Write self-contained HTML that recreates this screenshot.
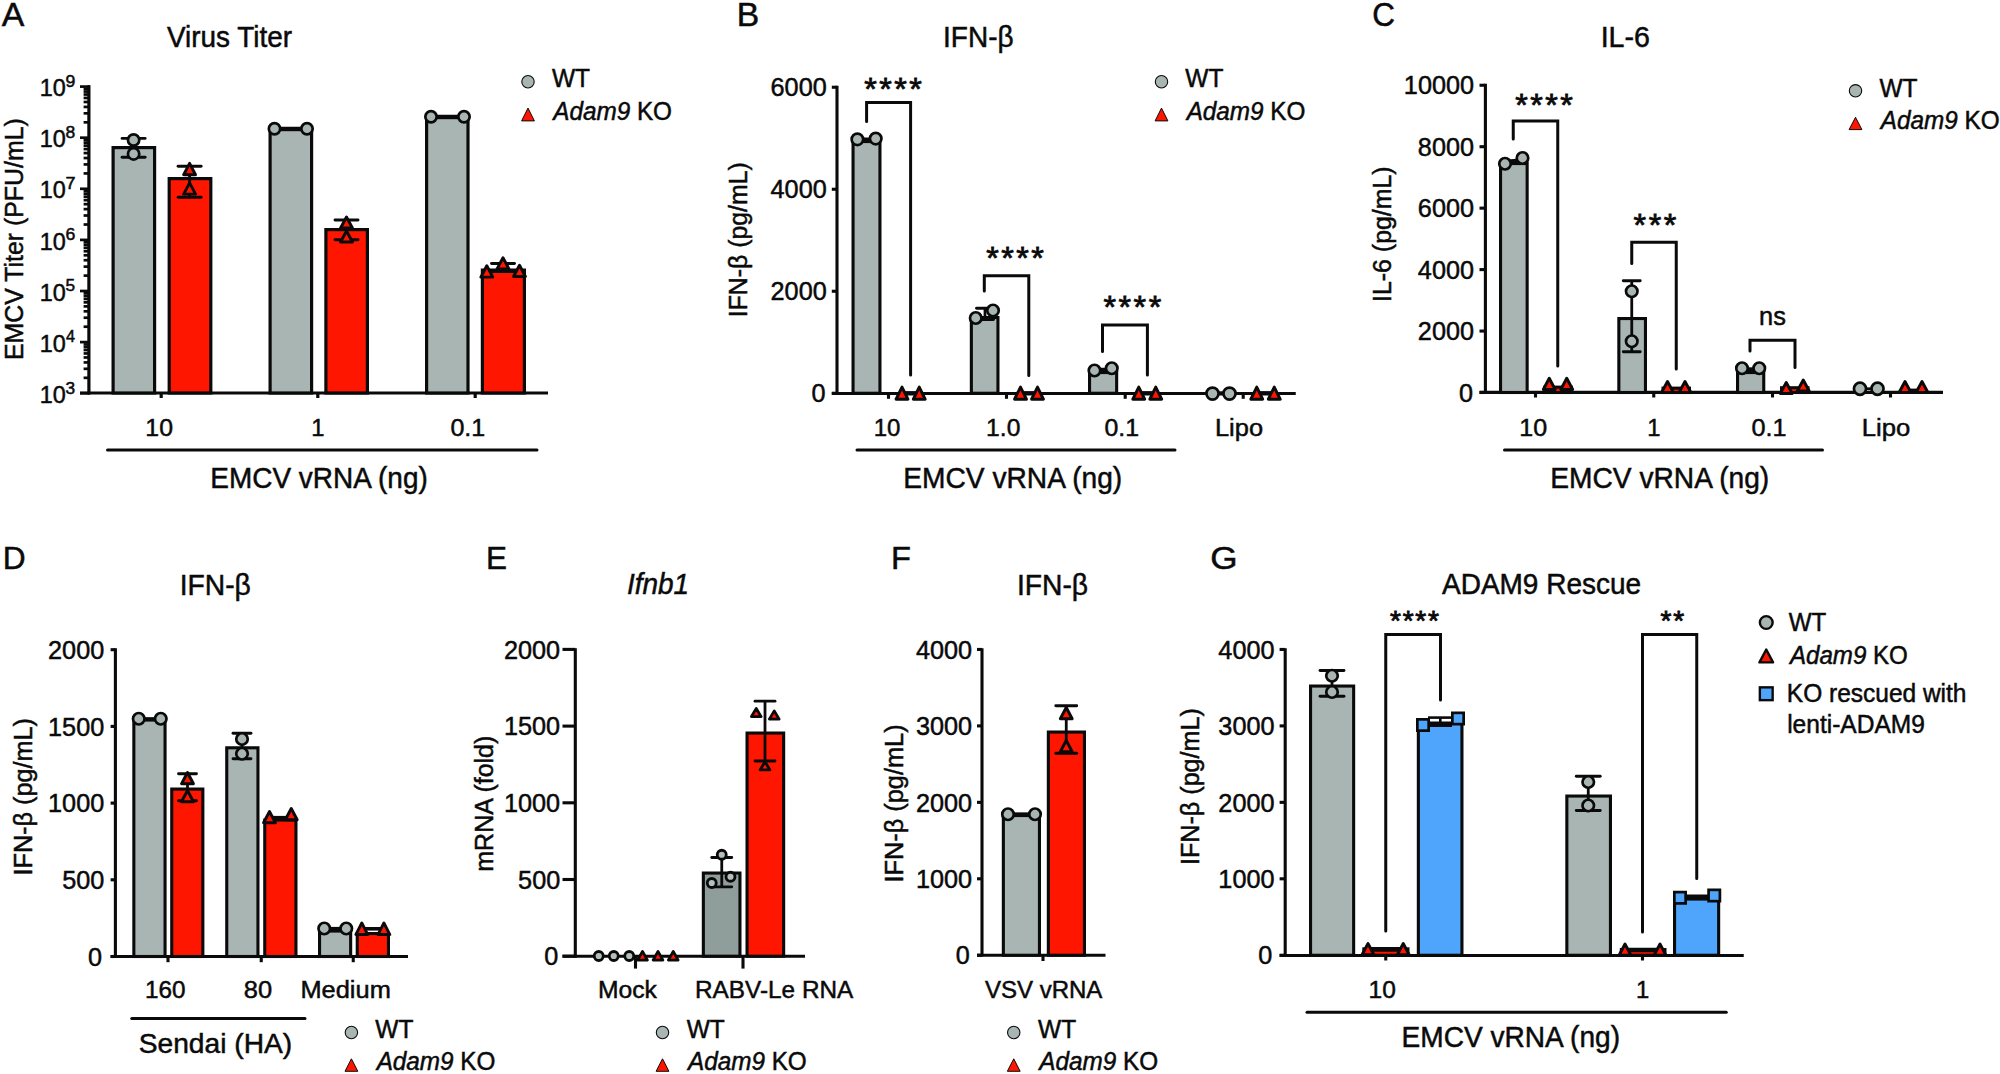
<!DOCTYPE html>
<html lang="en">
<head>
<meta charset="utf-8">
<title>Figure</title>
<style>
html,body{margin:0;padding:0;background:#fff;}
body{width:2000px;height:1074px;overflow:hidden;}
svg{display:block;}
svg text.st{stroke-width:0.85px;}
svg text{font-family:"Liberation Sans",Arial,Helvetica,sans-serif;fill:#0a0a0a;stroke:#0a0a0a;stroke-width:0.5;}
</style>
</head>
<body>
<svg width="2000" height="1074" viewBox="0 0 2000 1074">
<rect x="0" y="0" width="2000" height="1074" fill="#ffffff"/>
<text transform="translate(1.8 26) scale(1.0070 1)" font-size="33.6">A</text>
<text transform="translate(166.96 46.9) scale(0.9693 1)" font-size="28.8">Virus Titer</text>
<line x1="83.6" y1="377.82" x2="89" y2="377.82" stroke="#0a0a0a" stroke-width="2.7" stroke-linecap="butt"/>
<line x1="83.6" y1="368.82" x2="89" y2="368.82" stroke="#0a0a0a" stroke-width="2.7" stroke-linecap="butt"/>
<line x1="83.6" y1="362.43" x2="89" y2="362.43" stroke="#0a0a0a" stroke-width="2.7" stroke-linecap="butt"/>
<line x1="83.6" y1="357.48" x2="89" y2="357.48" stroke="#0a0a0a" stroke-width="2.7" stroke-linecap="butt"/>
<line x1="83.6" y1="353.44" x2="89" y2="353.44" stroke="#0a0a0a" stroke-width="2.7" stroke-linecap="butt"/>
<line x1="83.6" y1="350.02" x2="89" y2="350.02" stroke="#0a0a0a" stroke-width="2.7" stroke-linecap="butt"/>
<line x1="83.6" y1="347.05" x2="89" y2="347.05" stroke="#0a0a0a" stroke-width="2.7" stroke-linecap="butt"/>
<line x1="83.6" y1="344.44" x2="89" y2="344.44" stroke="#0a0a0a" stroke-width="2.7" stroke-linecap="butt"/>
<line x1="83.6" y1="326.72" x2="89" y2="326.72" stroke="#0a0a0a" stroke-width="2.7" stroke-linecap="butt"/>
<line x1="83.6" y1="317.72" x2="89" y2="317.72" stroke="#0a0a0a" stroke-width="2.7" stroke-linecap="butt"/>
<line x1="83.6" y1="311.33" x2="89" y2="311.33" stroke="#0a0a0a" stroke-width="2.7" stroke-linecap="butt"/>
<line x1="83.6" y1="306.38" x2="89" y2="306.38" stroke="#0a0a0a" stroke-width="2.7" stroke-linecap="butt"/>
<line x1="83.6" y1="302.34" x2="89" y2="302.34" stroke="#0a0a0a" stroke-width="2.7" stroke-linecap="butt"/>
<line x1="83.6" y1="298.92" x2="89" y2="298.92" stroke="#0a0a0a" stroke-width="2.7" stroke-linecap="butt"/>
<line x1="83.6" y1="295.95" x2="89" y2="295.95" stroke="#0a0a0a" stroke-width="2.7" stroke-linecap="butt"/>
<line x1="83.6" y1="293.34" x2="89" y2="293.34" stroke="#0a0a0a" stroke-width="2.7" stroke-linecap="butt"/>
<line x1="83.6" y1="275.62" x2="89" y2="275.62" stroke="#0a0a0a" stroke-width="2.7" stroke-linecap="butt"/>
<line x1="83.6" y1="266.62" x2="89" y2="266.62" stroke="#0a0a0a" stroke-width="2.7" stroke-linecap="butt"/>
<line x1="83.6" y1="260.23" x2="89" y2="260.23" stroke="#0a0a0a" stroke-width="2.7" stroke-linecap="butt"/>
<line x1="83.6" y1="255.28" x2="89" y2="255.28" stroke="#0a0a0a" stroke-width="2.7" stroke-linecap="butt"/>
<line x1="83.6" y1="251.24" x2="89" y2="251.24" stroke="#0a0a0a" stroke-width="2.7" stroke-linecap="butt"/>
<line x1="83.6" y1="247.82" x2="89" y2="247.82" stroke="#0a0a0a" stroke-width="2.7" stroke-linecap="butt"/>
<line x1="83.6" y1="244.85" x2="89" y2="244.85" stroke="#0a0a0a" stroke-width="2.7" stroke-linecap="butt"/>
<line x1="83.6" y1="242.24" x2="89" y2="242.24" stroke="#0a0a0a" stroke-width="2.7" stroke-linecap="butt"/>
<line x1="83.6" y1="224.52" x2="89" y2="224.52" stroke="#0a0a0a" stroke-width="2.7" stroke-linecap="butt"/>
<line x1="83.6" y1="215.52" x2="89" y2="215.52" stroke="#0a0a0a" stroke-width="2.7" stroke-linecap="butt"/>
<line x1="83.6" y1="209.13" x2="89" y2="209.13" stroke="#0a0a0a" stroke-width="2.7" stroke-linecap="butt"/>
<line x1="83.6" y1="204.18" x2="89" y2="204.18" stroke="#0a0a0a" stroke-width="2.7" stroke-linecap="butt"/>
<line x1="83.6" y1="200.14" x2="89" y2="200.14" stroke="#0a0a0a" stroke-width="2.7" stroke-linecap="butt"/>
<line x1="83.6" y1="196.72" x2="89" y2="196.72" stroke="#0a0a0a" stroke-width="2.7" stroke-linecap="butt"/>
<line x1="83.6" y1="193.75" x2="89" y2="193.75" stroke="#0a0a0a" stroke-width="2.7" stroke-linecap="butt"/>
<line x1="83.6" y1="191.14" x2="89" y2="191.14" stroke="#0a0a0a" stroke-width="2.7" stroke-linecap="butt"/>
<line x1="83.6" y1="173.42" x2="89" y2="173.42" stroke="#0a0a0a" stroke-width="2.7" stroke-linecap="butt"/>
<line x1="83.6" y1="164.42" x2="89" y2="164.42" stroke="#0a0a0a" stroke-width="2.7" stroke-linecap="butt"/>
<line x1="83.6" y1="158.03" x2="89" y2="158.03" stroke="#0a0a0a" stroke-width="2.7" stroke-linecap="butt"/>
<line x1="83.6" y1="153.08" x2="89" y2="153.08" stroke="#0a0a0a" stroke-width="2.7" stroke-linecap="butt"/>
<line x1="83.6" y1="149.04" x2="89" y2="149.04" stroke="#0a0a0a" stroke-width="2.7" stroke-linecap="butt"/>
<line x1="83.6" y1="145.62" x2="89" y2="145.62" stroke="#0a0a0a" stroke-width="2.7" stroke-linecap="butt"/>
<line x1="83.6" y1="142.65" x2="89" y2="142.65" stroke="#0a0a0a" stroke-width="2.7" stroke-linecap="butt"/>
<line x1="83.6" y1="140.04" x2="89" y2="140.04" stroke="#0a0a0a" stroke-width="2.7" stroke-linecap="butt"/>
<line x1="83.6" y1="122.32" x2="89" y2="122.32" stroke="#0a0a0a" stroke-width="2.7" stroke-linecap="butt"/>
<line x1="83.6" y1="113.32" x2="89" y2="113.32" stroke="#0a0a0a" stroke-width="2.7" stroke-linecap="butt"/>
<line x1="83.6" y1="106.93" x2="89" y2="106.93" stroke="#0a0a0a" stroke-width="2.7" stroke-linecap="butt"/>
<line x1="83.6" y1="101.98" x2="89" y2="101.98" stroke="#0a0a0a" stroke-width="2.7" stroke-linecap="butt"/>
<line x1="83.6" y1="97.94" x2="89" y2="97.94" stroke="#0a0a0a" stroke-width="2.7" stroke-linecap="butt"/>
<line x1="83.6" y1="94.52" x2="89" y2="94.52" stroke="#0a0a0a" stroke-width="2.7" stroke-linecap="butt"/>
<line x1="83.6" y1="91.55" x2="89" y2="91.55" stroke="#0a0a0a" stroke-width="2.7" stroke-linecap="butt"/>
<line x1="83.6" y1="88.94" x2="89" y2="88.94" stroke="#0a0a0a" stroke-width="2.7" stroke-linecap="butt"/>
<line x1="80" y1="393.2" x2="90" y2="393.2" stroke="#0a0a0a" stroke-width="2.7" stroke-linecap="butt"/>
<text transform="translate(39.84 402.8) scale(0.9630 1)" font-size="24.3">10</text>
<text transform="translate(65.61 393.5) scale(1.0463 1)" font-size="16.5">3</text>
<line x1="80" y1="342.1" x2="90" y2="342.1" stroke="#0a0a0a" stroke-width="2.7" stroke-linecap="butt"/>
<text transform="translate(39.84 351.7) scale(0.9630 1)" font-size="24.3">10</text>
<text transform="translate(65.98 342.4) scale(0.9841 1)" font-size="16.5">4</text>
<line x1="80" y1="291" x2="90" y2="291" stroke="#0a0a0a" stroke-width="2.7" stroke-linecap="butt"/>
<text transform="translate(39.84 300.6) scale(0.9630 1)" font-size="24.3">10</text>
<text transform="translate(65.61 291.3) scale(1.0463 1)" font-size="16.5">5</text>
<line x1="80" y1="239.9" x2="90" y2="239.9" stroke="#0a0a0a" stroke-width="2.7" stroke-linecap="butt"/>
<text transform="translate(39.84 249.5) scale(0.9630 1)" font-size="24.3">10</text>
<text transform="translate(65.42 240.2) scale(1.0688 1)" font-size="16.5">6</text>
<line x1="80" y1="188.8" x2="90" y2="188.8" stroke="#0a0a0a" stroke-width="2.7" stroke-linecap="butt"/>
<text transform="translate(39.84 198.4) scale(0.9630 1)" font-size="24.3">10</text>
<text transform="translate(65.4 189.1) scale(1.0922 1)" font-size="16.5">7</text>
<line x1="80" y1="137.7" x2="90" y2="137.7" stroke="#0a0a0a" stroke-width="2.7" stroke-linecap="butt"/>
<text transform="translate(39.84 147.3) scale(0.9630 1)" font-size="24.3">10</text>
<text transform="translate(65.51 138) scale(1.0574 1)" font-size="16.5">8</text>
<line x1="80" y1="86.6" x2="90" y2="86.6" stroke="#0a0a0a" stroke-width="2.7" stroke-linecap="butt"/>
<text transform="translate(39.84 96.2) scale(0.9630 1)" font-size="24.3">10</text>
<text transform="translate(65.51 86.9) scale(1.0688 1)" font-size="16.5">9</text>
<line x1="88.9" y1="85.25" x2="88.9" y2="394.4" stroke="#0a0a0a" stroke-width="3.2" stroke-linecap="butt"/>
<line x1="80" y1="393" x2="548" y2="393" stroke="#0a0a0a" stroke-width="3.2" stroke-linecap="butt"/>
<line x1="161.2" y1="393" x2="161.2" y2="398" stroke="#0a0a0a" stroke-width="3.2" stroke-linecap="butt"/>
<line x1="317.8" y1="393" x2="317.8" y2="398" stroke="#0a0a0a" stroke-width="3.2" stroke-linecap="butt"/>
<line x1="475.2" y1="393" x2="475.2" y2="398" stroke="#0a0a0a" stroke-width="3.2" stroke-linecap="butt"/>
<rect x="113.1" y="147.6" width="41.5" height="245.4" fill="#a9b5b3" stroke="#0a0a0a" stroke-width="3.2"/>
<rect x="169.2" y="178.6" width="41.6" height="214.4" fill="#ff1600" stroke="#0a0a0a" stroke-width="3.2"/>
<rect x="270.1" y="129.6" width="41.5" height="263.4" fill="#a9b5b3" stroke="#0a0a0a" stroke-width="3.2"/>
<rect x="325.9" y="229.6" width="41.5" height="163.4" fill="#ff1600" stroke="#0a0a0a" stroke-width="3.2"/>
<rect x="426.6" y="117.6" width="41.4" height="275.4" fill="#a9b5b3" stroke="#0a0a0a" stroke-width="3.2"/>
<rect x="482.4" y="270.1" width="42" height="122.9" fill="#ff1600" stroke="#0a0a0a" stroke-width="3.2"/>
<line x1="133.6" y1="138.4" x2="133.6" y2="157.3" stroke="#0a0a0a" stroke-width="2.9" stroke-linecap="butt"/>
<line x1="122.1" y1="138.4" x2="145.1" y2="138.4" stroke="#0a0a0a" stroke-width="2.9" stroke-linecap="round"/>
<line x1="122.1" y1="157.3" x2="145.1" y2="157.3" stroke="#0a0a0a" stroke-width="2.9" stroke-linecap="round"/>
<circle cx="133.6" cy="140" r="5.65" fill="#a9b5b3" stroke="#0a0a0a" stroke-width="2.7"/>
<circle cx="133.6" cy="153.9" r="5.65" fill="#a9b5b3" stroke="#0a0a0a" stroke-width="2.7"/>
<line x1="189.6" y1="166.3" x2="189.6" y2="197.3" stroke="#0a0a0a" stroke-width="2.9" stroke-linecap="butt"/>
<line x1="178.1" y1="166.3" x2="201.1" y2="166.3" stroke="#0a0a0a" stroke-width="2.9" stroke-linecap="round"/>
<line x1="178.1" y1="197.3" x2="201.1" y2="197.3" stroke="#0a0a0a" stroke-width="2.9" stroke-linecap="round"/>
<path d="M189.6 163.35L195.55 174.75L183.65 174.75Z" fill="#ff1600" stroke="#0a0a0a" stroke-width="2.9" stroke-linejoin="round"/>
<path d="M189.6 182.85L195.55 194.15L183.65 194.15Z" fill="#ff1600" stroke="#0a0a0a" stroke-width="2.9" stroke-linejoin="round"/>
<line x1="274.5" y1="128.75" x2="307" y2="128.75" stroke="#0a0a0a" stroke-width="3.8" stroke-linecap="butt"/>
<circle cx="274.5" cy="128.75" r="5.65" fill="#a9b5b3" stroke="#0a0a0a" stroke-width="2.7"/>
<circle cx="307" cy="128.75" r="5.65" fill="#a9b5b3" stroke="#0a0a0a" stroke-width="2.7"/>
<line x1="346.5" y1="220" x2="346.5" y2="239.7" stroke="#0a0a0a" stroke-width="2.9" stroke-linecap="butt"/>
<line x1="335" y1="220" x2="358" y2="220" stroke="#0a0a0a" stroke-width="2.9" stroke-linecap="round"/>
<line x1="335" y1="239.7" x2="358" y2="239.7" stroke="#0a0a0a" stroke-width="2.9" stroke-linecap="round"/>
<path d="M346.5 216.95L352.45 228.05L340.55 228.05Z" fill="#ff1600" stroke="#0a0a0a" stroke-width="2.9" stroke-linejoin="round"/>
<path d="M346.5 230.95L352.45 242.05L340.55 242.05Z" fill="#ff1600" stroke="#0a0a0a" stroke-width="2.9" stroke-linejoin="round"/>
<line x1="431" y1="116.75" x2="464" y2="116.75" stroke="#0a0a0a" stroke-width="3.8" stroke-linecap="butt"/>
<circle cx="431" cy="116.75" r="5.65" fill="#a9b5b3" stroke="#0a0a0a" stroke-width="2.7"/>
<circle cx="464" cy="116.75" r="5.65" fill="#a9b5b3" stroke="#0a0a0a" stroke-width="2.7"/>
<line x1="503" y1="263.5" x2="503" y2="271.5" stroke="#0a0a0a" stroke-width="2.9" stroke-linecap="butt"/>
<line x1="491.5" y1="263.5" x2="514.5" y2="263.5" stroke="#0a0a0a" stroke-width="2.9" stroke-linecap="round"/>
<line x1="491.5" y1="271.5" x2="514.5" y2="271.5" stroke="#0a0a0a" stroke-width="2.9" stroke-linecap="round"/>
<path d="M486.8 265.75L492.75 277.15L480.85 277.15Z" fill="#ff1600" stroke="#0a0a0a" stroke-width="2.9" stroke-linejoin="round"/>
<path d="M503 257.75L508.95 268.85L497.05 268.85Z" fill="#ff1600" stroke="#0a0a0a" stroke-width="2.9" stroke-linejoin="round"/>
<path d="M519.5 265.25L525.45 276.55L513.55 276.55Z" fill="#ff1600" stroke="#0a0a0a" stroke-width="2.9" stroke-linejoin="round"/>
<text transform="translate(145.34 435.7) scale(1.0000 1)" font-size="24.8">10</text>
<text transform="translate(311.24 435.7) scale(0.9600 1)" font-size="24.8">1</text>
<text transform="translate(450.4 435.7) scale(1.0104 1)" font-size="24.8">0.1</text>
<line x1="107.5" y1="450" x2="537" y2="450" stroke="#0a0a0a" stroke-width="3" stroke-linecap="round"/>
<text transform="translate(210.26 488) scale(0.9479 1)" font-size="29.5">EMCV vRNA (ng)</text>
<text transform="translate(22.6 359.99) rotate(-90) scale(0.9608 1)" font-size="25.9">EMCV Titer (PFU/mL)</text>
<circle cx="528" cy="81.75" r="6.2" fill="#a9b5b3" stroke="#0a0a0a" stroke-width="1.1"/>
<text transform="translate(551.93 87.45) scale(0.9688 1)" font-size="25.3">WT</text>
<path d="M528 108.1L534.4 120.9L521.6 120.9Z" fill="#ff1600" stroke="#0a0a0a" stroke-width="1" stroke-linejoin="round"/>
<text transform="translate(553.26 119.9) scale(0.9596 1)" font-size="25.3"><tspan font-style="italic">Adam9</tspan> KO</text>
<text transform="translate(736.81 26) scale(1.0013 1)" font-size="33.6">B</text>
<text transform="translate(943.08 46.9) scale(0.9719 1)" font-size="28.8">IFN-β</text>
<line x1="837" y1="85.7" x2="837" y2="394.6" stroke="#0a0a0a" stroke-width="3.1" stroke-linecap="butt"/>
<line x1="831.8" y1="393.25" x2="837" y2="393.25" stroke="#0a0a0a" stroke-width="3.1" stroke-linecap="butt"/>
<text transform="translate(811.46 402.35) scale(0.9570 1)" font-size="26.4">0</text>
<line x1="831.8" y1="291.25" x2="837" y2="291.25" stroke="#0a0a0a" stroke-width="3.1" stroke-linecap="butt"/>
<text transform="translate(770.57 300.35) scale(0.9570 1)" font-size="26.4">2000</text>
<line x1="831.8" y1="189.25" x2="837" y2="189.25" stroke="#0a0a0a" stroke-width="3.1" stroke-linecap="butt"/>
<text transform="translate(770.57 198.35) scale(0.9570 1)" font-size="26.4">4000</text>
<line x1="831.8" y1="87.25" x2="837" y2="87.25" stroke="#0a0a0a" stroke-width="3.1" stroke-linecap="butt"/>
<text transform="translate(770.57 96.35) scale(0.9570 1)" font-size="26.4">6000</text>
<line x1="831.8" y1="393.45" x2="1295.75" y2="393.45" stroke="#0a0a0a" stroke-width="3.1" stroke-linecap="butt"/>
<line x1="888.5" y1="393.25" x2="888.5" y2="398.8" stroke="#0a0a0a" stroke-width="3.1" stroke-linecap="butt"/>
<line x1="1006.5" y1="393.25" x2="1006.5" y2="398.8" stroke="#0a0a0a" stroke-width="3.1" stroke-linecap="butt"/>
<line x1="1125.2" y1="393.25" x2="1125.2" y2="398.8" stroke="#0a0a0a" stroke-width="3.1" stroke-linecap="butt"/>
<line x1="1243.2" y1="393.25" x2="1243.2" y2="398.8" stroke="#0a0a0a" stroke-width="3.1" stroke-linecap="butt"/>
<rect x="853.05" y="141.55" width="26.9" height="251.7" fill="#a9b5b3" stroke="#0a0a0a" stroke-width="3.1"/>
<rect x="971.35" y="317.55" width="26.6" height="75.7" fill="#a9b5b3" stroke="#0a0a0a" stroke-width="3.1"/>
<rect x="1089.55" y="372.55" width="27.1" height="20.7" fill="#a9b5b3" stroke="#0a0a0a" stroke-width="3.1"/>
<line x1="857.4" y1="139" x2="875.7" y2="139" stroke="#0a0a0a" stroke-width="3" stroke-linecap="butt"/>
<circle cx="857.4" cy="139.3" r="5.75" fill="#a9b5b3" stroke="#0a0a0a" stroke-width="2.7"/>
<circle cx="875.7" cy="138.6" r="5.75" fill="#a9b5b3" stroke="#0a0a0a" stroke-width="2.7"/>
<line x1="985" y1="308.25" x2="985" y2="319.5" stroke="#0a0a0a" stroke-width="2.8" stroke-linecap="butt"/>
<line x1="976.5" y1="308.25" x2="993.5" y2="308.25" stroke="#0a0a0a" stroke-width="2.8" stroke-linecap="round"/>
<line x1="976.5" y1="319.5" x2="993.5" y2="319.5" stroke="#0a0a0a" stroke-width="2.8" stroke-linecap="round"/>
<circle cx="975.75" cy="318" r="5.75" fill="#a9b5b3" stroke="#0a0a0a" stroke-width="2.7"/>
<circle cx="993" cy="310.5" r="5.75" fill="#a9b5b3" stroke="#0a0a0a" stroke-width="2.7"/>
<line x1="1094.5" y1="370" x2="1111.75" y2="370" stroke="#0a0a0a" stroke-width="4.5" stroke-linecap="butt"/>
<circle cx="1094.5" cy="370.5" r="5.75" fill="#a9b5b3" stroke="#0a0a0a" stroke-width="2.7"/>
<circle cx="1111.75" cy="368.25" r="5.75" fill="#a9b5b3" stroke="#0a0a0a" stroke-width="2.7"/>
<line x1="902" y1="393.3" x2="919.25" y2="393.3" stroke="#0a0a0a" stroke-width="4.4" stroke-linecap="butt"/>
<path d="M902 387.05L907.95 399.25L896.05 399.25Z" fill="#ff1600" stroke="#0a0a0a" stroke-width="2.9" stroke-linejoin="round"/>
<path d="M919.25 387.05L925.2 399.25L913.3 399.25Z" fill="#ff1600" stroke="#0a0a0a" stroke-width="2.9" stroke-linejoin="round"/>
<line x1="1020.5" y1="393.3" x2="1037.5" y2="393.3" stroke="#0a0a0a" stroke-width="4.4" stroke-linecap="butt"/>
<path d="M1020.5 387.05L1026.45 399.25L1014.55 399.25Z" fill="#ff1600" stroke="#0a0a0a" stroke-width="2.9" stroke-linejoin="round"/>
<path d="M1037.5 387.05L1043.45 399.25L1031.55 399.25Z" fill="#ff1600" stroke="#0a0a0a" stroke-width="2.9" stroke-linejoin="round"/>
<line x1="1138.75" y1="393.3" x2="1155.75" y2="393.3" stroke="#0a0a0a" stroke-width="4.4" stroke-linecap="butt"/>
<path d="M1138.75 387.05L1144.7 399.25L1132.8 399.25Z" fill="#ff1600" stroke="#0a0a0a" stroke-width="2.9" stroke-linejoin="round"/>
<path d="M1155.75 387.05L1161.7 399.25L1149.8 399.25Z" fill="#ff1600" stroke="#0a0a0a" stroke-width="2.9" stroke-linejoin="round"/>
<line x1="1256.75" y1="393.3" x2="1274.25" y2="393.3" stroke="#0a0a0a" stroke-width="4.4" stroke-linecap="butt"/>
<path d="M1256.75 387.05L1262.7 399.25L1250.8 399.25Z" fill="#ff1600" stroke="#0a0a0a" stroke-width="2.9" stroke-linejoin="round"/>
<path d="M1274.25 387.05L1280.2 399.25L1268.3 399.25Z" fill="#ff1600" stroke="#0a0a0a" stroke-width="2.9" stroke-linejoin="round"/>
<line x1="1212.5" y1="393.4" x2="1229.5" y2="393.4" stroke="#0a0a0a" stroke-width="4.2" stroke-linecap="butt"/>
<circle cx="1212.5" cy="393.6" r="6.05" fill="#a9b5b3" stroke="#0a0a0a" stroke-width="2.7"/>
<circle cx="1229.5" cy="393.6" r="6.05" fill="#a9b5b3" stroke="#0a0a0a" stroke-width="2.7"/>
<polyline points="866.6,121.6 866.6,102.4 910.6,102.4 910.6,375" fill="none" stroke="#0a0a0a" stroke-width="3" stroke-linejoin="miter" stroke-linecap="round"/>
<polyline points="984.3,291 984.3,275.8 1028.8,275.8 1028.8,375.5" fill="none" stroke="#0a0a0a" stroke-width="3" stroke-linejoin="miter" stroke-linecap="round"/>
<polyline points="1102.5,351.5 1102.5,325 1147.4,325 1147.4,375" fill="none" stroke="#0a0a0a" stroke-width="3" stroke-linejoin="miter" stroke-linecap="round"/>
<text class="st" x="864.14" y="99.62" font-size="32.2" letter-spacing="2.55">****</text>
<text class="st" x="986.14" y="269.42" font-size="32.2" letter-spacing="2.55">****</text>
<text class="st" x="1103.44" y="317.82" font-size="32.2" letter-spacing="2.55">****</text>
<text transform="translate(873.65 435.7) scale(0.9698 1)" font-size="24.8">10</text>
<text transform="translate(986.1 435.7) scale(0.9939 1)" font-size="24.8">1.0</text>
<text transform="translate(1104.51 435.7) scale(1.0027 1)" font-size="24.8">0.1</text>
<text transform="translate(1214.97 435.7) scale(1.0252 1)" font-size="24.8">Lipo</text>
<line x1="857" y1="450" x2="1175" y2="450" stroke="#0a0a0a" stroke-width="3" stroke-linecap="round"/>
<text transform="translate(903.25 488) scale(0.9546 1)" font-size="29.5">EMCV vRNA (ng)</text>
<text transform="translate(747 317.24) rotate(-90) scale(0.9592 1)" font-size="25.9">IFN-β (pg/mL)</text>
<circle cx="1161.5" cy="81.75" r="6.2" fill="#a9b5b3" stroke="#0a0a0a" stroke-width="1.1"/>
<text transform="translate(1185.33 87.45) scale(0.9688 1)" font-size="25.3">WT</text>
<path d="M1161.5 108.1L1167.9 120.9L1155.1 120.9Z" fill="#ff1600" stroke="#0a0a0a" stroke-width="1" stroke-linejoin="round"/>
<text transform="translate(1186.66 119.9) scale(0.9596 1)" font-size="25.3"><tspan font-style="italic">Adam9</tspan> KO</text>
<text transform="translate(1372.18 26) scale(0.9374 1)" font-size="33.6">C</text>
<text transform="translate(1600.67 46.9) scale(0.9936 1)" font-size="28.8">IL-6</text>
<line x1="1485.4" y1="83.7" x2="1485.4" y2="393.8" stroke="#0a0a0a" stroke-width="3.1" stroke-linecap="butt"/>
<line x1="1479.5" y1="392.5" x2="1485.4" y2="392.5" stroke="#0a0a0a" stroke-width="3.1" stroke-linecap="butt"/>
<text transform="translate(1458.96 401.6) scale(0.9570 1)" font-size="26.4">0</text>
<line x1="1479.5" y1="331.05" x2="1485.4" y2="331.05" stroke="#0a0a0a" stroke-width="3.1" stroke-linecap="butt"/>
<text transform="translate(1417.87 340.15) scale(0.9570 1)" font-size="26.4">2000</text>
<line x1="1479.5" y1="269.6" x2="1485.4" y2="269.6" stroke="#0a0a0a" stroke-width="3.1" stroke-linecap="butt"/>
<text transform="translate(1417.87 278.7) scale(0.9570 1)" font-size="26.4">4000</text>
<line x1="1479.5" y1="208.15" x2="1485.4" y2="208.15" stroke="#0a0a0a" stroke-width="3.1" stroke-linecap="butt"/>
<text transform="translate(1417.87 217.25) scale(0.9570 1)" font-size="26.4">6000</text>
<line x1="1479.5" y1="146.7" x2="1485.4" y2="146.7" stroke="#0a0a0a" stroke-width="3.1" stroke-linecap="butt"/>
<text transform="translate(1417.87 155.8) scale(0.9570 1)" font-size="26.4">8000</text>
<line x1="1479.5" y1="85.25" x2="1485.4" y2="85.25" stroke="#0a0a0a" stroke-width="3.1" stroke-linecap="butt"/>
<text transform="translate(1403.85 94.35) scale(0.9570 1)" font-size="26.4">10000</text>
<line x1="1479.5" y1="392.4" x2="1943" y2="392.4" stroke="#0a0a0a" stroke-width="3.1" stroke-linecap="butt"/>
<line x1="1535.5" y1="392.4" x2="1535.5" y2="397.5" stroke="#0a0a0a" stroke-width="3.1" stroke-linecap="butt"/>
<line x1="1653.75" y1="392.4" x2="1653.75" y2="397.5" stroke="#0a0a0a" stroke-width="3.1" stroke-linecap="butt"/>
<line x1="1772.5" y1="392.4" x2="1772.5" y2="397.5" stroke="#0a0a0a" stroke-width="3.1" stroke-linecap="butt"/>
<line x1="1890.5" y1="392.4" x2="1890.5" y2="397.5" stroke="#0a0a0a" stroke-width="3.1" stroke-linecap="butt"/>
<rect x="1500.55" y="163.55" width="26.6" height="228.95" fill="#a9b5b3" stroke="#0a0a0a" stroke-width="3.1"/>
<rect x="1618.85" y="318.55" width="26.6" height="73.95" fill="#a9b5b3" stroke="#0a0a0a" stroke-width="3.1"/>
<rect x="1737.55" y="372.55" width="26.2" height="19.95" fill="#a9b5b3" stroke="#0a0a0a" stroke-width="3.1"/>
<line x1="1505" y1="161.5" x2="1522.5" y2="160" stroke="#0a0a0a" stroke-width="3.5" stroke-linecap="butt"/>
<circle cx="1505" cy="163.75" r="5.75" fill="#a9b5b3" stroke="#0a0a0a" stroke-width="2.7"/>
<circle cx="1522.5" cy="158" r="5.75" fill="#a9b5b3" stroke="#0a0a0a" stroke-width="2.7"/>
<line x1="1631.75" y1="280.75" x2="1631.75" y2="351.75" stroke="#0a0a0a" stroke-width="2.8" stroke-linecap="butt"/>
<line x1="1623.25" y1="280.75" x2="1640.25" y2="280.75" stroke="#0a0a0a" stroke-width="2.8" stroke-linecap="round"/>
<line x1="1623.25" y1="351.75" x2="1640.25" y2="351.75" stroke="#0a0a0a" stroke-width="2.8" stroke-linecap="round"/>
<circle cx="1631.75" cy="291.25" r="5.75" fill="#a9b5b3" stroke="#0a0a0a" stroke-width="2.7"/>
<circle cx="1631.75" cy="341.25" r="5.75" fill="#a9b5b3" stroke="#0a0a0a" stroke-width="2.7"/>
<line x1="1742" y1="369.3" x2="1759.25" y2="369.3" stroke="#0a0a0a" stroke-width="4" stroke-linecap="butt"/>
<circle cx="1742" cy="368.25" r="5.75" fill="#a9b5b3" stroke="#0a0a0a" stroke-width="2.7"/>
<circle cx="1759.25" cy="368.25" r="5.75" fill="#a9b5b3" stroke="#0a0a0a" stroke-width="2.7"/>
<rect x="1544.85" y="387.15" width="26.4" height="5.35" fill="#ff1600" stroke="#0a0a0a" stroke-width="3.1"/>
<path d="M1549.25 378.25L1555.2 389.55L1543.3 389.55Z" fill="#ff1600" stroke="#0a0a0a" stroke-width="2.9" stroke-linejoin="round"/>
<path d="M1566.75 378.25L1572.7 389.55L1560.8 389.55Z" fill="#ff1600" stroke="#0a0a0a" stroke-width="2.9" stroke-linejoin="round"/>
<rect x="1663.05" y="388.15" width="26.4" height="4.35" fill="#ff1600" stroke="#0a0a0a" stroke-width="3.1"/>
<path d="M1667.5 381.45L1673.45 392.55L1661.55 392.55Z" fill="#ff1600" stroke="#0a0a0a" stroke-width="2.9" stroke-linejoin="round"/>
<path d="M1685 381.45L1690.95 392.55L1679.05 392.55Z" fill="#ff1600" stroke="#0a0a0a" stroke-width="2.9" stroke-linejoin="round"/>
<rect x="1781.55" y="387.75" width="26.4" height="4.75" fill="#ff1600" stroke="#0a0a0a" stroke-width="3.1"/>
<path d="M1786.25 382.45L1792.2 393.55L1780.3 393.55Z" fill="#ff1600" stroke="#0a0a0a" stroke-width="2.9" stroke-linejoin="round"/>
<path d="M1803.25 379.95L1809.2 391.05L1797.3 391.05Z" fill="#ff1600" stroke="#0a0a0a" stroke-width="2.9" stroke-linejoin="round"/>
<line x1="1860" y1="388.75" x2="1877.5" y2="388.75" stroke="#0a0a0a" stroke-width="2.8" stroke-linecap="butt"/>
<circle cx="1860" cy="388.75" r="6.05" fill="#a9b5b3" stroke="#0a0a0a" stroke-width="2.7"/>
<circle cx="1877.5" cy="388.75" r="6.05" fill="#a9b5b3" stroke="#0a0a0a" stroke-width="2.7"/>
<line x1="1905" y1="390" x2="1922" y2="390" stroke="#0a0a0a" stroke-width="2.8" stroke-linecap="butt"/>
<path d="M1905 381.45L1910.95 392.55L1899.05 392.55Z" fill="#ff1600" stroke="#0a0a0a" stroke-width="2.9" stroke-linejoin="round"/>
<path d="M1922 381.45L1927.95 392.55L1916.05 392.55Z" fill="#ff1600" stroke="#0a0a0a" stroke-width="2.9" stroke-linejoin="round"/>
<polyline points="1513.25,139 1513.25,121 1557.75,121 1557.75,366" fill="none" stroke="#0a0a0a" stroke-width="3" stroke-linejoin="miter" stroke-linecap="round"/>
<polyline points="1631.75,263.5 1631.75,242.3 1676.25,242.3 1676.25,369" fill="none" stroke="#0a0a0a" stroke-width="3" stroke-linejoin="miter" stroke-linecap="round"/>
<polyline points="1750,351 1750,340.3 1795,340.3 1795,367.5" fill="none" stroke="#0a0a0a" stroke-width="3" stroke-linejoin="miter" stroke-linecap="round"/>
<text class="st" x="1515.14" y="116.02" font-size="32.2" letter-spacing="2.55">****</text>
<text class="st" x="1633.61" y="236.42" font-size="32.2" letter-spacing="2.55">***</text>
<text transform="translate(1759.1 324.5) scale(0.9958 1)" font-size="25.5">ns</text>
<text transform="translate(1519.32 435.7) scale(1.0101 1)" font-size="24.8">10</text>
<text transform="translate(1647.14 435.7) scale(0.9600 1)" font-size="24.8">1</text>
<text transform="translate(1751.49 435.7) scale(1.0181 1)" font-size="24.8">0.1</text>
<text transform="translate(1861.69 435.7) scale(1.0365 1)" font-size="24.8">Lipo</text>
<line x1="1504.5" y1="450" x2="1822.5" y2="450" stroke="#0a0a0a" stroke-width="3" stroke-linecap="round"/>
<text transform="translate(1550.25 488) scale(0.9546 1)" font-size="29.5">EMCV vRNA (ng)</text>
<text transform="translate(1391 301.94) rotate(-90) scale(0.9611 1)" font-size="25.9">IL-6 (pg/mL)</text>
<circle cx="1855.5" cy="90.8" r="6.2" fill="#a9b5b3" stroke="#0a0a0a" stroke-width="1.1"/>
<text transform="translate(1879.48 96.65) scale(0.9688 1)" font-size="25.3">WT</text>
<path d="M1855.5 117.3L1861.9 129.6L1849.1 129.6Z" fill="#ff1600" stroke="#0a0a0a" stroke-width="1" stroke-linejoin="round"/>
<text transform="translate(1880.81 129.45) scale(0.9596 1)" font-size="25.3"><tspan font-style="italic">Adam9</tspan> KO</text>
<text transform="translate(2.72 568.6) scale(0.9900 1)" font-size="32">D</text>
<text transform="translate(179.66 594.5) scale(0.9806 1)" font-size="28.8">IFN-β</text>
<line x1="115.4" y1="648.15" x2="115.4" y2="958" stroke="#0a0a0a" stroke-width="3.1" stroke-linecap="butt"/>
<line x1="110.6" y1="956.5" x2="115.4" y2="956.5" stroke="#0a0a0a" stroke-width="3.1" stroke-linecap="butt"/>
<text transform="translate(88.06 965.7) scale(0.9570 1)" font-size="26.4">0</text>
<line x1="110.6" y1="879.8" x2="115.4" y2="879.8" stroke="#0a0a0a" stroke-width="3.1" stroke-linecap="butt"/>
<text transform="translate(62.22 889) scale(0.9570 1)" font-size="26.4">500</text>
<line x1="110.6" y1="803.1" x2="115.4" y2="803.1" stroke="#0a0a0a" stroke-width="3.1" stroke-linecap="butt"/>
<text transform="translate(48.07 812.3) scale(0.9570 1)" font-size="26.4">1000</text>
<line x1="110.6" y1="726.4" x2="115.4" y2="726.4" stroke="#0a0a0a" stroke-width="3.1" stroke-linecap="butt"/>
<text transform="translate(48.07 735.6) scale(0.9570 1)" font-size="26.4">1500</text>
<line x1="110.6" y1="649.7" x2="115.4" y2="649.7" stroke="#0a0a0a" stroke-width="3.1" stroke-linecap="butt"/>
<text transform="translate(48.07 658.9) scale(0.9570 1)" font-size="26.4">2000</text>
<line x1="110.6" y1="956.5" x2="408" y2="956.5" stroke="#0a0a0a" stroke-width="3.1" stroke-linecap="butt"/>
<line x1="168" y1="956.5" x2="168" y2="962.2" stroke="#0a0a0a" stroke-width="3.1" stroke-linecap="butt"/>
<line x1="261.25" y1="956.5" x2="261.25" y2="962.2" stroke="#0a0a0a" stroke-width="3.1" stroke-linecap="butt"/>
<line x1="353.25" y1="956.5" x2="353.25" y2="962.2" stroke="#0a0a0a" stroke-width="3.1" stroke-linecap="butt"/>
<rect x="133.85" y="720.05" width="31.2" height="236.45" fill="#a9b5b3" stroke="#0a0a0a" stroke-width="3.1"/>
<rect x="171.75" y="789.05" width="31.1" height="167.45" fill="#ff1600" stroke="#0a0a0a" stroke-width="3.1"/>
<rect x="226.75" y="747.8" width="31.2" height="208.7" fill="#a9b5b3" stroke="#0a0a0a" stroke-width="3.1"/>
<rect x="264.75" y="820.05" width="31.2" height="136.45" fill="#ff1600" stroke="#0a0a0a" stroke-width="3.1"/>
<rect x="319.55" y="931.05" width="31.1" height="25.45" fill="#a9b5b3" stroke="#0a0a0a" stroke-width="3.1"/>
<rect x="357.25" y="933.55" width="31.2" height="22.95" fill="#ff1600" stroke="#0a0a0a" stroke-width="3.1"/>
<line x1="138.75" y1="718.75" x2="160.75" y2="718.75" stroke="#0a0a0a" stroke-width="3.2" stroke-linecap="butt"/>
<circle cx="138.75" cy="718.75" r="5.75" fill="#a9b5b3" stroke="#0a0a0a" stroke-width="2.7"/>
<circle cx="160.75" cy="718.75" r="5.75" fill="#a9b5b3" stroke="#0a0a0a" stroke-width="2.7"/>
<line x1="187.5" y1="773.75" x2="187.5" y2="800.75" stroke="#0a0a0a" stroke-width="2.8" stroke-linecap="butt"/>
<line x1="178.5" y1="773.75" x2="196.5" y2="773.75" stroke="#0a0a0a" stroke-width="2.8" stroke-linecap="round"/>
<line x1="178.5" y1="800.75" x2="196.5" y2="800.75" stroke="#0a0a0a" stroke-width="2.8" stroke-linecap="round"/>
<path d="M187.5 772.45L193.45 783.75L181.55 783.75Z" fill="#ff1600" stroke="#0a0a0a" stroke-width="2.9" stroke-linejoin="round"/>
<path d="M187.5 790.45L193.45 801.75L181.55 801.75Z" fill="#ff1600" stroke="#0a0a0a" stroke-width="2.9" stroke-linejoin="round"/>
<line x1="242" y1="733.25" x2="242" y2="758.75" stroke="#0a0a0a" stroke-width="2.8" stroke-linecap="butt"/>
<line x1="233" y1="733.25" x2="251" y2="733.25" stroke="#0a0a0a" stroke-width="2.8" stroke-linecap="round"/>
<line x1="233" y1="758.75" x2="251" y2="758.75" stroke="#0a0a0a" stroke-width="2.8" stroke-linecap="round"/>
<circle cx="242" cy="739" r="5.75" fill="#a9b5b3" stroke="#0a0a0a" stroke-width="2.7"/>
<circle cx="242" cy="753.75" r="5.75" fill="#a9b5b3" stroke="#0a0a0a" stroke-width="2.7"/>
<line x1="269.5" y1="817.5" x2="291.25" y2="817.5" stroke="#0a0a0a" stroke-width="3.2" stroke-linecap="butt"/>
<path d="M269.5 811.45L275.45 822.75L263.55 822.75Z" fill="#ff1600" stroke="#0a0a0a" stroke-width="2.9" stroke-linejoin="round"/>
<path d="M291.25 808.45L297.2 819.75L285.3 819.75Z" fill="#ff1600" stroke="#0a0a0a" stroke-width="2.9" stroke-linejoin="round"/>
<line x1="324.25" y1="928.5" x2="346.25" y2="928.5" stroke="#0a0a0a" stroke-width="3.2" stroke-linecap="butt"/>
<circle cx="324.25" cy="928.5" r="5.75" fill="#a9b5b3" stroke="#0a0a0a" stroke-width="2.7"/>
<circle cx="346.25" cy="928.5" r="5.75" fill="#a9b5b3" stroke="#0a0a0a" stroke-width="2.7"/>
<line x1="362" y1="928.8" x2="383.8" y2="928.8" stroke="#0a0a0a" stroke-width="3.6" stroke-linecap="butt"/>
<path d="M361.8 922.95L367.75 934.55L355.85 934.55Z" fill="#ff1600" stroke="#0a0a0a" stroke-width="2.9" stroke-linejoin="round"/>
<path d="M383.9 922.95L389.85 934.55L377.95 934.55Z" fill="#ff1600" stroke="#0a0a0a" stroke-width="2.9" stroke-linejoin="round"/>
<text transform="translate(144.88 997.95) scale(0.9802 1)" font-size="24.8">160</text>
<text transform="translate(243.85 997.95) scale(1.0276 1)" font-size="24.8">80</text>
<text transform="translate(300.47 997.95) scale(1.0243 1)" font-size="24.8">Medium</text>
<line x1="131.75" y1="1018.5" x2="305" y2="1018.5" stroke="#0a0a0a" stroke-width="3" stroke-linecap="round"/>
<text transform="translate(138.73 1052.8) scale(0.9889 1)" font-size="28.5">Sendai (HA)</text>
<text transform="translate(31.8 875.47) rotate(-90) scale(0.9732 1)" font-size="25.9">IFN-β (pg/mL)</text>
<circle cx="351.4" cy="1032.5" r="6.2" fill="#a9b5b3" stroke="#0a0a0a" stroke-width="1.1"/>
<text transform="translate(375.33 1037.9) scale(0.9688 1)" font-size="25.3">WT</text>
<path d="M351.4 1058.8L357.8 1071.3L345 1071.3Z" fill="#ff1600" stroke="#0a0a0a" stroke-width="1" stroke-linejoin="round"/>
<text transform="translate(376.66 1070.3) scale(0.9596 1)" font-size="25.3"><tspan font-style="italic">Adam9</tspan> KO</text>
<text transform="translate(486.08 568.6) scale(0.9834 1)" font-size="32">E</text>
<text transform="translate(626.88 593.75) scale(0.9714 1)" font-size="28.8" font-style="italic">Ifnb1</text>
<line x1="575.3" y1="648.15" x2="575.3" y2="957.7" stroke="#0a0a0a" stroke-width="3.1" stroke-linecap="butt"/>
<line x1="562.5" y1="956.2" x2="575.3" y2="956.2" stroke="#0a0a0a" stroke-width="3.1" stroke-linecap="butt"/>
<text transform="translate(544.16 965.4) scale(0.9570 1)" font-size="26.4">0</text>
<line x1="562.5" y1="879.5" x2="575.3" y2="879.5" stroke="#0a0a0a" stroke-width="3.1" stroke-linecap="butt"/>
<text transform="translate(518.12 888.7) scale(0.9570 1)" font-size="26.4">500</text>
<line x1="562.5" y1="802.8" x2="575.3" y2="802.8" stroke="#0a0a0a" stroke-width="3.1" stroke-linecap="butt"/>
<text transform="translate(503.97 812) scale(0.9570 1)" font-size="26.4">1000</text>
<line x1="562.5" y1="726.1" x2="575.3" y2="726.1" stroke="#0a0a0a" stroke-width="3.1" stroke-linecap="butt"/>
<text transform="translate(503.97 735.3) scale(0.9570 1)" font-size="26.4">1500</text>
<line x1="562.5" y1="649.4" x2="575.3" y2="649.4" stroke="#0a0a0a" stroke-width="3.1" stroke-linecap="butt"/>
<text transform="translate(503.97 658.6) scale(0.9570 1)" font-size="26.4">2000</text>
<line x1="562.5" y1="956.3" x2="805" y2="956.3" stroke="#0a0a0a" stroke-width="3.1" stroke-linecap="butt"/>
<line x1="635.5" y1="956.2" x2="635.5" y2="968.6" stroke="#0a0a0a" stroke-width="3.1" stroke-linecap="butt"/>
<line x1="743" y1="956.2" x2="743" y2="968.6" stroke="#0a0a0a" stroke-width="3.1" stroke-linecap="butt"/>
<rect x="703.35" y="873.05" width="36.6" height="83.15" fill="#8f9e9b" stroke="#0a0a0a" stroke-width="3.1"/>
<rect x="747.05" y="733.05" width="36.6" height="223.15" fill="#ff1600" stroke="#0a0a0a" stroke-width="3.1"/>
<line x1="721.75" y1="857.5" x2="721.75" y2="886.8" stroke="#0a0a0a" stroke-width="2.8" stroke-linecap="butt"/>
<line x1="711.75" y1="857.5" x2="731.75" y2="857.5" stroke="#0a0a0a" stroke-width="2.8" stroke-linecap="round"/>
<line x1="711.75" y1="886.8" x2="731.75" y2="886.8" stroke="#0a0a0a" stroke-width="2.8" stroke-linecap="round"/>
<circle cx="721.75" cy="854.75" r="4.5" fill="#b4bfc0" stroke="#0a0a0a" stroke-width="2.8"/>
<circle cx="730.5" cy="876.75" r="4.5" fill="#b4bfc0" stroke="#0a0a0a" stroke-width="2.8"/>
<circle cx="711.75" cy="883" r="4.5" fill="#b4bfc0" stroke="#0a0a0a" stroke-width="2.8"/>
<line x1="765" y1="701.2" x2="765" y2="761" stroke="#0a0a0a" stroke-width="2.8" stroke-linecap="butt"/>
<line x1="755" y1="701.2" x2="775" y2="701.2" stroke="#0a0a0a" stroke-width="2.8" stroke-linecap="round"/>
<line x1="755" y1="761" x2="775" y2="761" stroke="#0a0a0a" stroke-width="2.8" stroke-linecap="round"/>
<path d="M756.25 708.4L761.15 716.6L751.35 716.6Z" fill="#ff1600" stroke="#0a0a0a" stroke-width="2.8" stroke-linejoin="round"/>
<path d="M774.25 710.9L779.15 719.1L769.35 719.1Z" fill="#ff1600" stroke="#0a0a0a" stroke-width="2.8" stroke-linejoin="round"/>
<path d="M765 761.7L769.9 769.9L760.1 769.9Z" fill="#ff1600" stroke="#0a0a0a" stroke-width="2.8" stroke-linejoin="round"/>
<circle cx="598.75" cy="956" r="4.5" fill="#b4bfc0" stroke="#0a0a0a" stroke-width="2.8"/>
<circle cx="613.75" cy="956" r="4.5" fill="#b4bfc0" stroke="#0a0a0a" stroke-width="2.8"/>
<circle cx="629.25" cy="956" r="4.5" fill="#b4bfc0" stroke="#0a0a0a" stroke-width="2.8"/>
<path d="M642.5 951.4L647.4 960.1L637.6 960.1Z" fill="#ff1600" stroke="#0a0a0a" stroke-width="2.8" stroke-linejoin="round"/>
<path d="M658 951.4L662.9 960.1L653.1 960.1Z" fill="#ff1600" stroke="#0a0a0a" stroke-width="2.8" stroke-linejoin="round"/>
<path d="M673.25 951.4L678.15 960.1L668.35 960.1Z" fill="#ff1600" stroke="#0a0a0a" stroke-width="2.8" stroke-linejoin="round"/>
<text transform="translate(598.03 997.95) scale(0.9950 1)" font-size="24.8">Mock</text>
<text transform="translate(695.05 997.95) scale(0.9814 1)" font-size="24.8">RABV-Le RNA</text>
<text transform="translate(492.7 871.73) rotate(-90) scale(0.9653 1)" font-size="25.9">mRNA (fold)</text>
<circle cx="662.5" cy="1032.5" r="6.2" fill="#a9b5b3" stroke="#0a0a0a" stroke-width="1.1"/>
<text transform="translate(686.68 1037.9) scale(0.9688 1)" font-size="25.3">WT</text>
<path d="M662.5 1058.8L668.9 1071.3L656.1 1071.3Z" fill="#ff1600" stroke="#0a0a0a" stroke-width="1" stroke-linejoin="round"/>
<text transform="translate(688.01 1070.3) scale(0.9596 1)" font-size="25.3"><tspan font-style="italic">Adam9</tspan> KO</text>
<text transform="translate(890.89 568.6) scale(1.0204 1)" font-size="32">F</text>
<text transform="translate(1016.96 594.5) scale(0.9806 1)" font-size="28.8">IFN-β</text>
<line x1="982" y1="648.15" x2="982" y2="956.6" stroke="#0a0a0a" stroke-width="3.1" stroke-linecap="butt"/>
<line x1="977" y1="955.25" x2="982" y2="955.25" stroke="#0a0a0a" stroke-width="3.1" stroke-linecap="butt"/>
<text transform="translate(955.76 964.45) scale(0.9570 1)" font-size="26.4">0</text>
<line x1="977" y1="878.8" x2="982" y2="878.8" stroke="#0a0a0a" stroke-width="3.1" stroke-linecap="butt"/>
<text transform="translate(915.97 888) scale(0.9570 1)" font-size="26.4">1000</text>
<line x1="977" y1="802.35" x2="982" y2="802.35" stroke="#0a0a0a" stroke-width="3.1" stroke-linecap="butt"/>
<text transform="translate(915.97 811.55) scale(0.9570 1)" font-size="26.4">2000</text>
<line x1="977" y1="725.9" x2="982" y2="725.9" stroke="#0a0a0a" stroke-width="3.1" stroke-linecap="butt"/>
<text transform="translate(915.97 735.1) scale(0.9570 1)" font-size="26.4">3000</text>
<line x1="977" y1="649.45" x2="982" y2="649.45" stroke="#0a0a0a" stroke-width="3.1" stroke-linecap="butt"/>
<text transform="translate(915.97 658.65) scale(0.9570 1)" font-size="26.4">4000</text>
<line x1="977" y1="955.25" x2="1105.5" y2="955.25" stroke="#0a0a0a" stroke-width="3.1" stroke-linecap="butt"/>
<line x1="1043" y1="955.25" x2="1043" y2="961" stroke="#0a0a0a" stroke-width="3.1" stroke-linecap="butt"/>
<rect x="1003.35" y="815.55" width="36.1" height="139.7" fill="#a9b5b3" stroke="#0a0a0a" stroke-width="3.1"/>
<rect x="1048.35" y="732.05" width="36.1" height="223.2" fill="#ff1600" stroke="#0a0a0a" stroke-width="3.1"/>
<line x1="1008" y1="814.25" x2="1035" y2="814.25" stroke="#0a0a0a" stroke-width="3.8" stroke-linecap="butt"/>
<circle cx="1008" cy="814.25" r="5.75" fill="#a9b5b3" stroke="#0a0a0a" stroke-width="2.7"/>
<circle cx="1035" cy="814.25" r="5.75" fill="#a9b5b3" stroke="#0a0a0a" stroke-width="2.7"/>
<line x1="1066.25" y1="705.75" x2="1066.25" y2="753.25" stroke="#0a0a0a" stroke-width="2.8" stroke-linecap="butt"/>
<line x1="1055.75" y1="705.75" x2="1076.75" y2="705.75" stroke="#0a0a0a" stroke-width="2.8" stroke-linecap="round"/>
<line x1="1055.75" y1="753.25" x2="1076.75" y2="753.25" stroke="#0a0a0a" stroke-width="2.8" stroke-linecap="round"/>
<path d="M1066.25 707.45L1072.2 718.75L1060.3 718.75Z" fill="#ff1600" stroke="#0a0a0a" stroke-width="2.9" stroke-linejoin="round"/>
<path d="M1066.25 740.45L1072.2 751.75L1060.3 751.75Z" fill="#ff1600" stroke="#0a0a0a" stroke-width="2.9" stroke-linejoin="round"/>
<text transform="translate(984.88 997.95) scale(0.9699 1)" font-size="24.8">VSV vRNA</text>
<text transform="translate(902.6 882.48) rotate(-90) scale(0.9776 1)" font-size="25.9">IFN-β (pg/mL)</text>
<circle cx="1013.75" cy="1032.5" r="6.2" fill="#a9b5b3" stroke="#0a0a0a" stroke-width="1.1"/>
<text transform="translate(1038.03 1037.9) scale(0.9688 1)" font-size="25.3">WT</text>
<path d="M1013.75 1058.8L1020.15 1071.3L1007.35 1071.3Z" fill="#ff1600" stroke="#0a0a0a" stroke-width="1" stroke-linejoin="round"/>
<text transform="translate(1039.36 1070.3) scale(0.9596 1)" font-size="25.3"><tspan font-style="italic">Adam9</tspan> KO</text>
<text transform="translate(1210.24 568.6) scale(1.0973 1)" font-size="32">G</text>
<text transform="translate(1442 593.75) scale(0.9724 1)" font-size="28.8">ADAM9 Rescue</text>
<line x1="1285.2" y1="648.15" x2="1285.2" y2="956.6" stroke="#0a0a0a" stroke-width="3.1" stroke-linecap="butt"/>
<line x1="1279.6" y1="955.25" x2="1285.2" y2="955.25" stroke="#0a0a0a" stroke-width="3.1" stroke-linecap="butt"/>
<text transform="translate(1258.16 964.45) scale(0.9570 1)" font-size="26.4">0</text>
<line x1="1279.6" y1="878.8" x2="1285.2" y2="878.8" stroke="#0a0a0a" stroke-width="3.1" stroke-linecap="butt"/>
<text transform="translate(1218.37 888) scale(0.9570 1)" font-size="26.4">1000</text>
<line x1="1279.6" y1="802.35" x2="1285.2" y2="802.35" stroke="#0a0a0a" stroke-width="3.1" stroke-linecap="butt"/>
<text transform="translate(1218.37 811.55) scale(0.9570 1)" font-size="26.4">2000</text>
<line x1="1279.6" y1="725.9" x2="1285.2" y2="725.9" stroke="#0a0a0a" stroke-width="3.1" stroke-linecap="butt"/>
<text transform="translate(1218.37 735.1) scale(0.9570 1)" font-size="26.4">3000</text>
<line x1="1279.6" y1="649.45" x2="1285.2" y2="649.45" stroke="#0a0a0a" stroke-width="3.1" stroke-linecap="butt"/>
<text transform="translate(1218.37 658.65) scale(0.9570 1)" font-size="26.4">4000</text>
<line x1="1279.6" y1="955.5" x2="1743.75" y2="955.5" stroke="#0a0a0a" stroke-width="3.1" stroke-linecap="butt"/>
<line x1="1385.75" y1="955.25" x2="1385.75" y2="960.5" stroke="#0a0a0a" stroke-width="3.1" stroke-linecap="butt"/>
<line x1="1642.5" y1="955.25" x2="1642.5" y2="960.5" stroke="#0a0a0a" stroke-width="3.1" stroke-linecap="butt"/>
<rect x="1310.55" y="686.05" width="43.1" height="269.2" fill="#a9b5b3" stroke="#0a0a0a" stroke-width="3.1"/>
<rect x="1363.85" y="948.85" width="44.1" height="6.4" fill="#ff1600" stroke="#0a0a0a" stroke-width="3.1"/>
<rect x="1418.35" y="723.05" width="43.6" height="232.2" fill="#4fa5fb" stroke="#0a0a0a" stroke-width="3.1"/>
<rect x="1566.85" y="796.05" width="43.6" height="159.2" fill="#a9b5b3" stroke="#0a0a0a" stroke-width="3.1"/>
<rect x="1621.35" y="949.55" width="43.6" height="5.7" fill="#ff1600" stroke="#0a0a0a" stroke-width="3.1"/>
<rect x="1674.55" y="899.05" width="44.1" height="56.2" fill="#4fa5fb" stroke="#0a0a0a" stroke-width="3.1"/>
<line x1="1332" y1="670.5" x2="1332" y2="696.25" stroke="#0a0a0a" stroke-width="2.8" stroke-linecap="butt"/>
<line x1="1320" y1="670.5" x2="1344" y2="670.5" stroke="#0a0a0a" stroke-width="2.8" stroke-linecap="round"/>
<line x1="1320" y1="696.25" x2="1344" y2="696.25" stroke="#0a0a0a" stroke-width="2.8" stroke-linecap="round"/>
<circle cx="1332" cy="675.75" r="5.75" fill="#a9b5b3" stroke="#0a0a0a" stroke-width="2.7"/>
<circle cx="1332" cy="692" r="5.75" fill="#a9b5b3" stroke="#0a0a0a" stroke-width="2.7"/>
<line x1="1368" y1="949.4" x2="1403.25" y2="949.4" stroke="#0a0a0a" stroke-width="4.6" stroke-linecap="butt"/>
<path d="M1368 943.45L1373.95 954.75L1362.05 954.75Z" fill="#ff1600" stroke="#0a0a0a" stroke-width="2.9" stroke-linejoin="round"/>
<path d="M1403.25 943.45L1409.2 954.75L1397.3 954.75Z" fill="#ff1600" stroke="#0a0a0a" stroke-width="2.9" stroke-linejoin="round"/>
<line x1="1428" y1="717.6" x2="1452" y2="717.6" stroke="#0a0a0a" stroke-width="2.6" stroke-linecap="butt"/>
<line x1="1428" y1="725.2" x2="1452" y2="725.2" stroke="#0a0a0a" stroke-width="3.6" stroke-linecap="butt"/>
<line x1="1440.3" y1="717.6" x2="1440.3" y2="725.2" stroke="#0a0a0a" stroke-width="2.6" stroke-linecap="butt"/>
<rect x="1417.35" y="719.35" width="11.3" height="11.3" fill="#4fa5fb" stroke="#0a0a0a" stroke-width="2.7"/>
<rect x="1452.35" y="712.85" width="11.3" height="11.3" fill="#4fa5fb" stroke="#0a0a0a" stroke-width="2.7"/>
<line x1="1588.25" y1="776.25" x2="1588.25" y2="810.5" stroke="#0a0a0a" stroke-width="2.8" stroke-linecap="butt"/>
<line x1="1576.25" y1="776.25" x2="1600.25" y2="776.25" stroke="#0a0a0a" stroke-width="2.8" stroke-linecap="round"/>
<line x1="1576.25" y1="810.5" x2="1600.25" y2="810.5" stroke="#0a0a0a" stroke-width="2.8" stroke-linecap="round"/>
<circle cx="1588.25" cy="782" r="5.75" fill="#a9b5b3" stroke="#0a0a0a" stroke-width="2.7"/>
<circle cx="1588.25" cy="805.5" r="5.75" fill="#a9b5b3" stroke="#0a0a0a" stroke-width="2.7"/>
<line x1="1625" y1="950" x2="1660" y2="950" stroke="#0a0a0a" stroke-width="4.4" stroke-linecap="butt"/>
<path d="M1625 943.95L1630.95 955.25L1619.05 955.25Z" fill="#ff1600" stroke="#0a0a0a" stroke-width="2.9" stroke-linejoin="round"/>
<path d="M1660 943.95L1665.95 955.25L1654.05 955.25Z" fill="#ff1600" stroke="#0a0a0a" stroke-width="2.9" stroke-linejoin="round"/>
<line x1="1680" y1="896.5" x2="1714" y2="896.5" stroke="#0a0a0a" stroke-width="3.8" stroke-linecap="butt"/>
<rect x="1674.35" y="892.1" width="11.3" height="11.3" fill="#4fa5fb" stroke="#0a0a0a" stroke-width="2.7"/>
<rect x="1708.6" y="889.85" width="11.3" height="11.3" fill="#4fa5fb" stroke="#0a0a0a" stroke-width="2.7"/>
<polyline points="1385.75,931 1385.75,634.5 1440.5,634.5 1440.5,700" fill="none" stroke="#0a0a0a" stroke-width="3" stroke-linejoin="miter" stroke-linecap="round"/>
<polyline points="1642.5,932 1642.5,634.5 1696.75,634.5 1696.75,878.5" fill="none" stroke="#0a0a0a" stroke-width="3" stroke-linejoin="miter" stroke-linecap="round"/>
<text class="st" x="1390.01" y="630.22" font-size="28" letter-spacing="1.75">****</text>
<text class="st" x="1660.5" y="630.22" font-size="28" letter-spacing="1.75">**</text>
<text transform="translate(1368.61 997.95) scale(0.9899 1)" font-size="24.8">10</text>
<text transform="translate(1635.94 997.95) scale(0.9600 1)" font-size="24.8">1</text>
<line x1="1307" y1="1012.25" x2="1726.25" y2="1012.25" stroke="#0a0a0a" stroke-width="3" stroke-linecap="round"/>
<text transform="translate(1401.5 1047.3) scale(0.9523 1)" font-size="29.5">EMCV vRNA (ng)</text>
<text transform="translate(1199.2 865.06) rotate(-90) scale(0.9713 1)" font-size="25.9">IFN-β (pg/mL)</text>
<circle cx="1766.25" cy="622.5" r="6.4" fill="#a9b5b3" stroke="#0a0a0a" stroke-width="2.4"/>
<text transform="translate(1788.63 630.5) scale(0.9559 1)" font-size="25.3">WT</text>
<path d="M1766.25 649.5L1773.05 662.4L1759.45 662.4Z" fill="#ff1600" stroke="#0a0a0a" stroke-width="2.4" stroke-linejoin="round"/>
<text transform="translate(1789.96 663.75) scale(0.9531 1)" font-size="25.3"><tspan font-style="italic">Adam9</tspan> KO</text>
<rect x="1759.85" y="687.35" width="12.8" height="12.8" fill="#4fa5fb" stroke="#0a0a0a" stroke-width="2.4"/>
<text transform="translate(1786.79 702) scale(0.9689 1)" font-size="25.3">KO rescued with</text>
<text transform="translate(1787.15 733) scale(0.9702 1)" font-size="25.3">lenti-ADAM9</text>
</svg>
</body>
</html>
